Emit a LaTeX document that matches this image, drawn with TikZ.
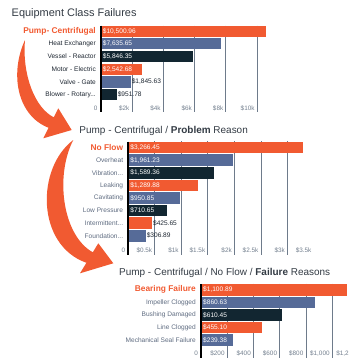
\documentclass[tikz,border=0pt]{standalone}
\usepackage{fontspec}
\setmainfont{Liberation Sans}
\usepackage{tikz}
\definecolor{orng}{HTML}{F15A31}
\definecolor{slate}{HTML}{566B98}
\definecolor{navy}{HTML}{122631}
\definecolor{gridc}{HTML}{6E7B8B}
\definecolor{labc}{HTML}{5E6B80}
\definecolor{darklab}{HTML}{1C2530}
\definecolor{tickc}{HTML}{74808F}
\definecolor{ttlc}{HTML}{333B44}
\tikzset{
  ttl/.style={anchor=west, inner sep=0pt, text=ttlc, font=\fontsize{10}{11}\selectfont},
  bigttl/.style={ttl, font=\fontsize{11}{12}\selectfont},
  hilab/.style={anchor=east, inner sep=0pt, text=orng, font=\fontsize{8.4}{9}\selectfont\bfseries},
  catlab/.style={anchor=east, inner sep=0pt, text=labc, font=\fontsize{6.6}{7}\selectfont},
  darkcat/.style={catlab, text=darklab},
  vallab/.style={anchor=west, inner sep=0pt, font=\fontsize{6.6}{7}\selectfont},
  tick/.style={anchor=east, inner sep=0pt, text=tickc, font=\fontsize{6.4}{7}\selectfont},
  gridln/.style={gridc, line width=1bp},
  axisln/.style={black, line width=2bp}
}

\begin{document}
\begin{tikzpicture}[x=1bp, y=-1bp]
\useasboundingbox (0,0) rectangle (349,358);

\node[bigttl] (t1) at (11.5,14) {Equipment Class Failures};
\begin{scope}[shift={(100.7,25.5)}]
\foreach \g/\t in {2000/2k,4000/4k,6000/6k,8000/8k,10000/10k} {
  \draw[gridln] (\g*0.01565,0) -- (\g*0.01565,86.2);
  \node[tick] (k1\t) at (\g*0.01565-2.5,82.8) {\$\t};
}
\node[tick] (k1z) at (-3,82.8) {0};
\foreach \v/\t/\n/\c/\ls/\o/\tc [count=\i] in {
  10500.96/{10,500.96}/Pump- Centrifugal/orng/hilab/0/white,
  7635.65/{7,635.65}/Heat Exchanger/slate/darkcat/0/white,
  5846.35/{5,846.35}/Vessel - Reactor/navy/darkcat/0/white,
  2542.68/{2,542.68}/Motor - Electric/orng/darkcat/0/white,
  1845.63/{1,845.63}/Valve - Gate/slate/darkcat/1/darklab,
  951.78/{951.78}/{Blower - Rotary...}/navy/darkcat/1/darklab} {
  \fill[\c] (1,{(\i-1)*12.7}) rectangle ({1+\v*0.01565},{(\i-1)*12.7+11.2});
  \node[\ls] (c1lab\i) at (-4.7,{(\i-1)*12.7+5.6}) {\n};
  \node[vallab, text=\tc] (c1val\i) at ({2+\o*\v*0.01565},{(\i-1)*12.7+5.6}) {\$\t};
}
\draw[axisln] (0,0) -- (0,86.2);
\end{scope}

\node[ttl] (t2) at (79.3,130.7) {Pump - Centrifugal / \textbf{Problem} Reason};
\begin{scope}[shift={(128.3,141.7)}]
\foreach \g/\t in {500/0.5k,1000/1k,1500/1.5k,2000/2k,2500/2.5k,3000/3k} {
  \draw[gridln] (\g*0.05309,-0.7) -- (\g*0.05309,112.8);
}
\foreach \g/\t in {500/0.5k,1000/1k,1500/1.5k,2000/2k,2500/2.5k,3000/3k,3500/3.5k} {
  \node[tick] (k2\g) at (\g*0.05309-2.5,108.3) {\$\t};
}
\node[tick] (k2z) at (-3,108.3) {0};
\foreach \v/\t/\n/\c/\ls/\o/\tc [count=\i] in {
  3266.45/{3,266.45}/No Flow/orng/hilab/0/white,
  1961.23/{1,961.23}/Overheat/slate/catlab/0/white,
  1589.36/{1,589.36}/{Vibration...}/navy/catlab/0/white,
  1289.88/{1,289.88}/Leaking/orng/catlab/0/white,
  950.85/{950.85}/Cavitating/slate/catlab/0/white,
  710.65/{710.65}/Low Pressure/navy/catlab/0/white,
  425.65/{425.65}/{Intermittent...}/orng/catlab/1/darklab,
  306.89/{306.89}/{Foundation...}/slate/catlab/1/darklab} {
  \fill[\c] (1,{(\i-1)*12.6}) rectangle ({1+\v*0.05309},{(\i-1)*12.6+11.6});
  \node[\ls] (c2lab\i) at (-5,{(\i-1)*12.6+5.8}) {\n};
  \node[vallab, text=\tc] (c2val\i) at ({2+\o*\v*0.05309},{(\i-1)*12.6+5.8}) {\$\t};
}
\draw[axisln] (0,0) -- (0,112.8);
\end{scope}

\node[ttl] (t3) at (119,273.3) {Pump - Centrifugal / No Flow / \textbf{Failure} Reasons};
\begin{scope}[shift={(201,284)}]
\foreach \g/\t in {200/200,400/400,600/600,800/800,1000/{1,000},1200/{1,200}} {
  \draw[gridln] (\g*0.1313,-0.5) -- (\g*0.1313,74);
  \node[tick] (k3\g) at (\g*0.1313-2.5,69.3) {\$\t};
}
\node[tick] (k3z) at (-3,69.3) {0};
\foreach \v/\t/\n/\c/\ls [count=\i] in {
  1100.89/{1,100.89}/Bearing Failure/orng/hilab,
  860.63/{860.63}/Impeller Clogged/slate/catlab,
  610.45/{610.45}/Bushing Damaged/navy/catlab,
  455.10/{455.10}/Line Clogged/orng/catlab,
  239.38/{239.38}/Mechanical Seal Failure/slate/catlab} {
  \fill[\c] (1,{(\i-1)*12.6}) rectangle ({1+\v*0.1313},{(\i-1)*12.6+11.6});
  \node[\ls] (c3lab\i) at (-5,{(\i-1)*12.6+5.8}) {\n};
  \node[vallab, text=white] (c3val\i) at (2,{(\i-1)*12.6+5.8}) {\$\t};
}
\draw[axisln] (0,0) -- (0,74);
\end{scope}

\fill[orng] (25,40) .. controls (10,72) and (16,115) .. (48.6,127.8) -- (43.3,138.3) -- (71.7,130) -- (58.3,108.3) -- (53.8,117.3) .. controls (35,108) and (22,75) .. (25,40) -- cycle;
\fill[orng] (73.3,140) .. controls (36,168) and (36,245) .. (86.4,262.8) -- (80,273.3) -- (113.3,263.3) -- (98.3,243.3) -- (92.8,252.3) .. controls (62,235) and (55,175) .. (73.3,140) -- cycle;
\end{tikzpicture}
\end{document}
